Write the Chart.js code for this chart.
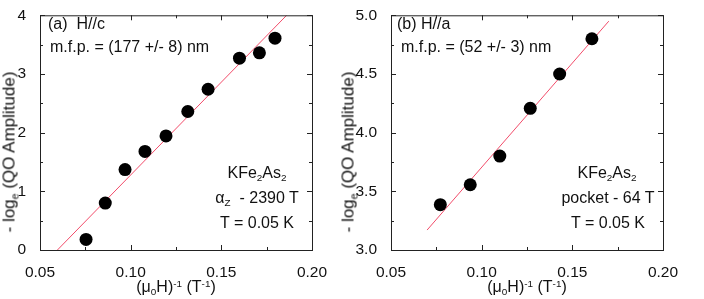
<!DOCTYPE html>
<html>
<head>
<meta charset="utf-8">
<script src="https://cdn.jsdelivr.net/npm/chart.js@4"></script>
<style>
  body { margin: 0; background: #fff; }
  #wrap { position: relative; width: 704px; height: 299px; font-family: "Liberation Sans", Arial, sans-serif; color: #111; }
  canvas { position: absolute; top: 0; }
  .t { position: absolute; white-space: nowrap; font-size: 16px; line-height: 18px; }
  .c { transform: translateX(-50%); }
  .rot { transform: translate(-50%, -50%) rotate(-90deg); font-size: 17px; }
  .sb { font-size: 0.62em; position: relative; top: 0.35em; }
  .sp { font-size: 0.62em; position: relative; top: -0.55em; }
</style>
</head>
<body>
<div id="wrap">
  <canvas id="chartA" width="352" height="299" style="left:0"></canvas>
  <canvas id="chartB" width="352" height="299" style="left:352px"></canvas>

  <div class="t" style="left:48px;top:15px">(a)&nbsp; H//c</div>
  <div class="t" style="left:50px;top:38px">m.f.p. = (177 +/- 8) nm</div>
  <div class="t c" style="left:257px;top:164px">KFe<span class="sb">2</span>As<span class="sb">2</span></div>
  <div class="t c" style="left:257px;top:189px">&alpha;<span class="sb">Z</span>&nbsp; - 2390 T</div>
  <div class="t c" style="left:257px;top:214px">T = 0.05 K</div>

  <div class="t" style="left:397px;top:15px">(b) H//a</div>
  <div class="t" style="left:401px;top:38px">m.f.p. = (52 +/- 3) nm</div>
  <div class="t c" style="left:607px;top:164px">KFe<span class="sb">2</span>As<span class="sb">2</span></div>
  <div class="t c" style="left:608px;top:189px">pocket - 64 T</div>
  <div class="t c" style="left:608px;top:214px">T = 0.05 K</div>

  <div class="t rot" style="left:10px;top:152px">- log<span class="sb">e</span> (QO Amplitude)</div>
  <div class="t rot" style="left:349px;top:152px">- log<span class="sb">e</span> (QO Amplitude)</div>
  <div class="t c" style="left:176px;top:278px">(&mu;<span class="sb">0</span>H)<span class="sp">-1</span> (T<span class="sp">-1</span>)</div>
  <div class="t c" style="left:527px;top:278px">(&mu;<span class="sb">0</span>H)<span class="sp">-1</span> (T<span class="sp">-1</span>)</div>
</div>

<script>
// panel (a) H//c
const invFieldA = [0.0754, 0.086, 0.0969, 0.1079, 0.1195, 0.1315, 0.1427, 0.160, 0.171, 0.1796];
const logAmpA = [0.18, 0.80, 1.37, 1.68, 1.945, 2.36, 2.74, 3.27, 3.36, 3.61];
const fitXA = [0.0596, 0.186];
const fitYA = [0, 4];

// panel (b) H//a
const invFieldB = [0.0772, 0.0937, 0.110, 0.1268, 0.1430, 0.1608];
const logAmpB = [3.386, 3.556, 3.80, 4.207, 4.50, 4.80];
const fitXB = [0.0699, 0.1701];
const fitYB = [3.17, 4.95];

const xTickRange = [0.05, 0.20, 0.05];
const yTickRangeA = [0, 4, 1];
const yTickRangeB = [3, 5, 0.5];

const FONT = "'Liberation Sans', Arial, sans-serif";

// box around plot with inward major + minor ticks on all four sides
const frameTicks = {
  id: 'frameTicks',
  afterDraw(chart) {
    const { ctx, chartArea: a, scales } = chart;
    ctx.save();
    ctx.strokeStyle = '#222';
    ctx.lineWidth = 1;
    ctx.strokeRect(a.left + 0.5, a.top + 0.5, a.right - a.left, a.bottom - a.top);

    function marks(scale) {
      const vals = scale.ticks.map(t => t.value);
      const out = vals.map(v => ({ v, len: 5 }));
      for (let i = 0; i < vals.length - 1; i++) out.push({ v: (vals[i] + vals[i + 1]) / 2, len: 3 });
      return out;
    }
    ctx.beginPath();
    marks(scales.x).forEach(m => {
      const px = Math.round(scales.x.getPixelForValue(m.v)) + 0.5;
      ctx.moveTo(px, a.bottom); ctx.lineTo(px, a.bottom - m.len);
      ctx.moveTo(px, a.top); ctx.lineTo(px, a.top + m.len);
    });
    marks(scales.y).forEach(m => {
      const py = Math.round(scales.y.getPixelForValue(m.v)) + 0.5;
      ctx.moveTo(a.left, py); ctx.lineTo(a.left + m.len, py);
      ctx.moveTo(a.right, py); ctx.lineTo(a.right - m.len, py);
    });
    ctx.stroke();
    ctx.restore();
  }
};

function makeChart(id, xs, ys, fx, fy, yRange, yDigits, yWidth, padRight) {
  const ctx = document.getElementById(id).getContext('2d');
  return new Chart(ctx, {
    type: 'scatter',
    data: {
      datasets: [{
        data: xs.map((x, i) => ({ x: x, y: ys[i] })),
        backgroundColor: '#000',
        borderWidth: 0,
        pointRadius: 6.5,
        pointHoverRadius: 6.5,
      }, {
        data: fx.map((x, i) => ({ x: x, y: fy[i] })),
        showLine: true,
        borderColor: '#f24c6a',
        borderWidth: 1,
        pointRadius: 0,
      }],
    },
    options: {
      responsive: false,
      animation: false,
      devicePixelRatio: 1,
      layout: { padding: { top: 8, right: padRight, left: 0, bottom: 0 } },
      plugins: { legend: { display: false }, tooltip: { enabled: false } },
      scales: {
        x: {
          min: xTickRange[0], max: xTickRange[1],
          grid: { display: false },
          border: { display: false },
          afterFit: s => { s.height = 49; },
          ticks: {
            stepSize: xTickRange[2], padding: 5, color: '#111',
            font: { family: FONT, size: 15.5 },
            callback: v => v.toFixed(2),
          },
        },
        y: {
          min: yRange[0], max: yRange[1],
          grid: { display: false },
          border: { display: false },
          afterFit: s => { s.width = yWidth; },
          ticks: {
            stepSize: yRange[2], padding: 6, color: '#111',
            font: { family: FONT, size: 15.5 },
            callback: v => v.toFixed(yDigits),
          },
        },
      },
    },
    plugins: [frameTicks],
  });
}

makeChart('chartA', invFieldA, logAmpA, fitXA, fitYA, yTickRangeA, 0, 40, 40);
makeChart('chartB', invFieldB, logAmpB, fitXB, fitYB, yTickRangeB, 1, 39, 41);
</script>
</body>
</html>
